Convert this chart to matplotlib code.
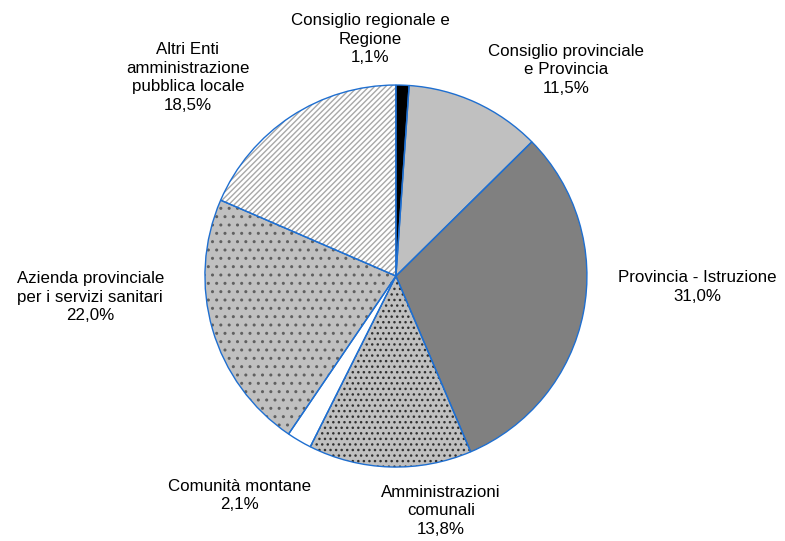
import numpy as np
import matplotlib
matplotlib.use('Agg')
import matplotlib.pyplot as plt

plt.rcParams['font.family'] = ['Liberation Sans', 'DejaVu Sans']

labels = ['Consiglio regionale e\nRegione', 'Consiglio provinciale\ne Provincia',
          'Provincia - Istruzione', 'Amministrazioni\ncomunali',
          'Comunità montane', 'Azienda provinciale\nper i servizi sanitari',
          'Altri Enti\namministrazione\npubblica locale']
values = [1.1, 11.5, 31.0, 13.8, 2.1, 22.0, 18.5]
colors = ['#000000', '#c0c0c0', '#808080', '#c0c0c0', '#ffffff', '#c0c0c0', '#ffffff']
hatches = [None, None, None, '...', None, '..', '//////']
hatch_cols = ['#000000', '#c0c0c0', '#808080', '#303030', '#ffffff', '#606060', '#a8a8a8']
# label anchor points in units of pie radius
label_pos = [(-0.136, 1.24), (0.89, 1.08), (1.576, -0.058), (0.236, -1.23),
             (-0.82, -1.15), (-1.60, -0.11), (-1.09, 1.04)]

fig = plt.figure(figsize=(7.85, 5.41), dpi=100)
ax = fig.add_axes([0, 0, 1, 1])

plt.rcParams['hatch.linewidth'] = 1.0
wedges, _ = ax.pie(values, colors=colors, startangle=90, counterclock=False,
                   radius=1.0, wedgeprops=dict(linewidth=0))
for w, h, hc in zip(wedges, hatches, hatch_cols):
    if h:
        w.set_hatch(h)
        w.set_edgecolor(hc)
        w.set_linewidth(0)

ax.pie(values, colors=['none'] * len(values), startangle=90, counterclock=False,
       radius=1.0, wedgeprops=dict(linewidth=1.0, edgecolor='#1f6fd0', fill=False))

ax.set_xlim(-2.073, 2.037)
ax.set_ylim(-1.387, 1.445)
ax.set_aspect('equal')
ax.axis('off')

for lab, v, (x, y) in zip(labels, values, label_pos):
    pct = f'{v:.1f}%'.replace('.', ',')
    ax.text(x, y, f'{lab}\n{pct}', ha='center', va='center', fontsize=12.2, linespacing=1.3)

fig.savefig('out.png', dpi=100)
